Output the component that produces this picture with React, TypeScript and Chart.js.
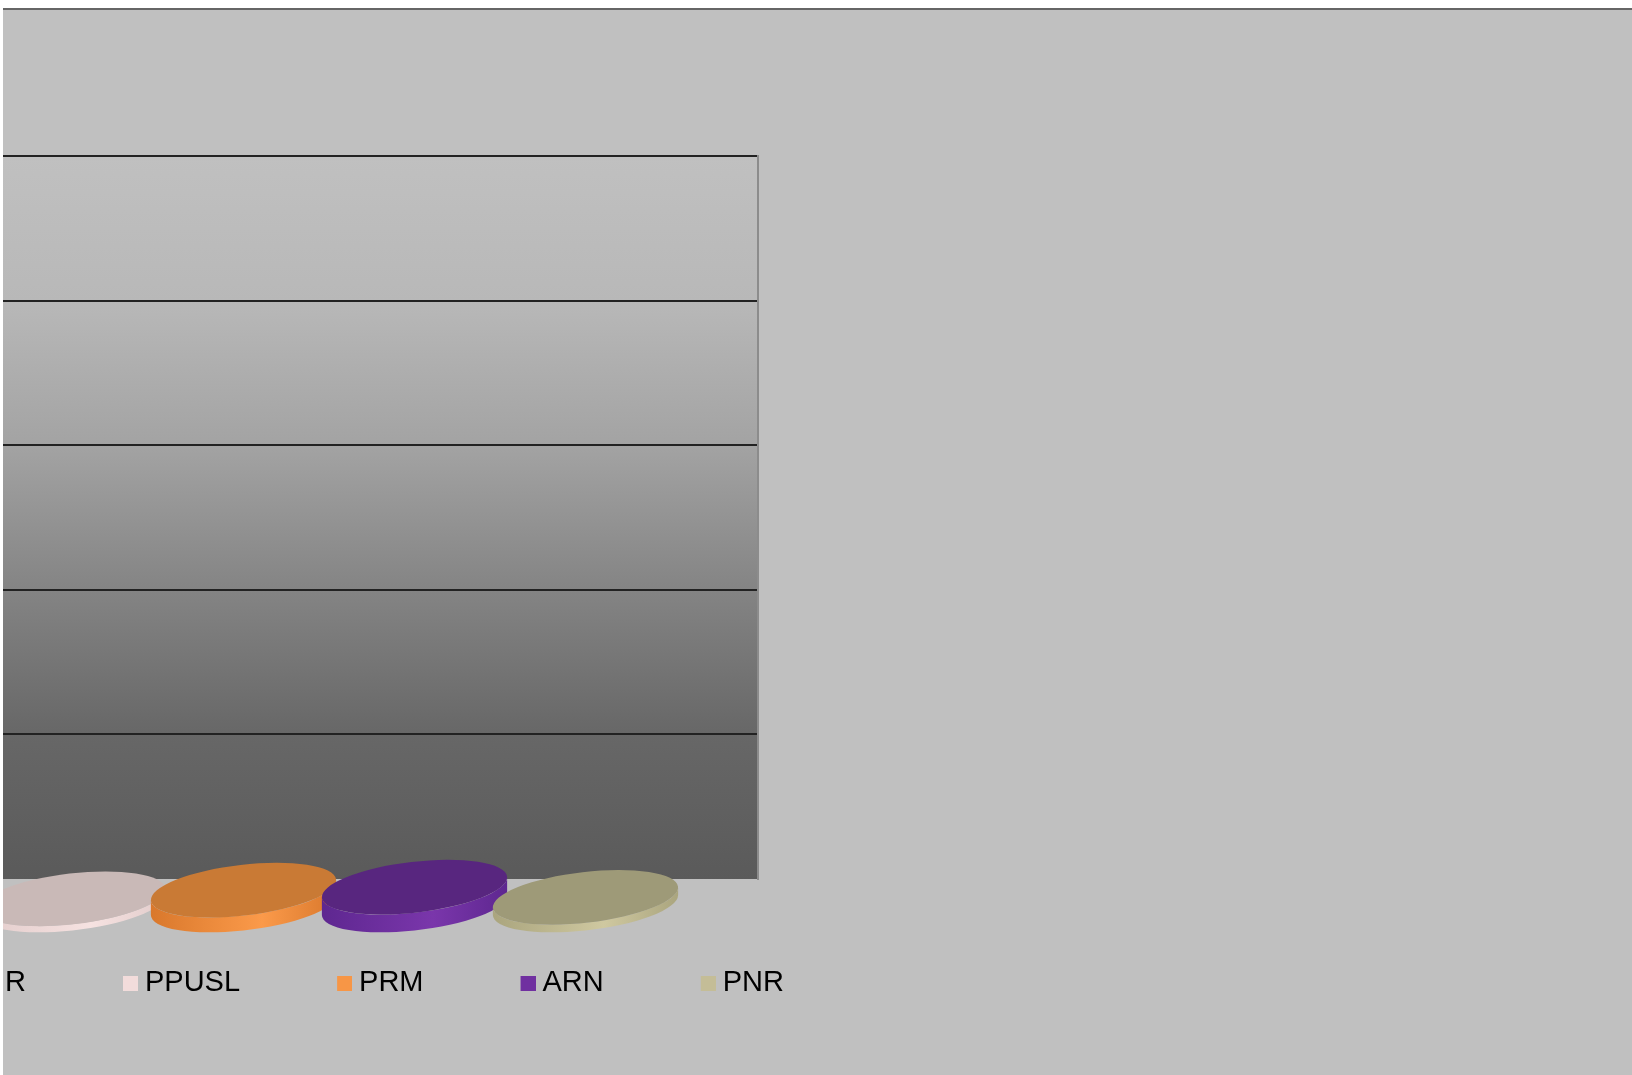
import React, { useEffect, useRef } from 'react';
import { Chart, registerables } from 'chart.js';

Chart.register(...registerables);

// ---- data ----
const categories = [''];
const seriesNames = ['UDMR', 'PPUSL', 'PRM', 'ARN', 'PNR'];
const seriesValues = [0.9, 0.5, 1.1, 1.3, 0.6];
const yMin = 0;
const yMax = 50;
const yStep = 10;

// ---- styles ----
const markerColors = ['#4bacc6', '#f2dcdb', '#f79646', '#7030a0', '#c4bd97'];
const topColors = ['#3f8fa6', '#c9b9b7', '#c97a35', '#58267f', '#9e9a78'];
const sideDark = ['#2f7f96', '#e2cccb', '#d9782c', '#5e2790', '#aaa57e'];
const sideLight = ['#5cc0da', '#f6e2e1', '#fb9a4a', '#7a36ab', '#cfc8a0'];
const FONT = '"Liberation Sans", Arial, sans-serif';

const TILT = -0.115; // rotation of the disc ellipses (radians)
const FLAT = 0.272; // minor / major axis ratio
const DX = -45.5; // 3D depth offset of the columns in front of the back wall
const DY = 27;

const markerCache: Record<string, HTMLCanvasElement> = {};
function makeMarker(color: string): HTMLCanvasElement {
  if (markerCache[color]) return markerCache[color];
  const c = document.createElement('canvas');
  c.width = 30;
  c.height = 15;
  const g = c.getContext('2d')!;
  g.fillStyle = color;
  g.fillRect(15, 0, 15, 15);
  markerCache[color] = c;
  return c;
}

const wallPlugin = {
  id: 'backWall',
  beforeDraw(chart: any) {
    const { ctx, chartArea: a } = chart;
    const g = ctx.createLinearGradient(0, a.top, 0, a.bottom);
    g.addColorStop(0, '#c0c0c0');
    g.addColorStop(0.2, '#b8b8b8');
    g.addColorStop(0.4, '#a3a3a3');
    g.addColorStop(0.6, '#848484');
    g.addColorStop(0.8, '#676767');
    g.addColorStop(1, '#5a5a5a');
    ctx.save();
    ctx.fillStyle = g;
    ctx.fillRect(a.left, a.top, a.right - a.left, a.bottom - a.top);
    ctx.restore();
  },
};

const discPlugin = {
  id: 'discs',
  beforeDatasetsDraw(chart: any) {
    const ctx = chart.ctx;
    chart.data.datasets.forEach((_ds: any, i: number) => {
      const meta = chart.getDatasetMeta(i);
      meta.data.forEach((bar: any) => {
        const p = bar.getProps(['x', 'y', 'base', 'width'], true);
        const cx = p.x + DX;
        const botY = p.base + DY;
        const topY = p.y + DY;
        const a = p.width / 2;
        const b = a * FLAT;
        const t0 = Math.atan2(-b * Math.sin(TILT), a * Math.cos(TILT));
        const tl = t0 + Math.PI;
        const lx = cx + a * Math.cos(tl) * Math.cos(TILT) - b * Math.sin(tl) * Math.sin(TILT);
        const ly = a * Math.cos(tl) * Math.sin(TILT) + b * Math.sin(tl) * Math.cos(TILT);
        ctx.save();
        // side
        const sg = ctx.createLinearGradient(cx - a, 0, cx + a, 0);
        sg.addColorStop(0, sideDark[i]);
        sg.addColorStop(0.6, sideLight[i]);
        sg.addColorStop(1, sideDark[i]);
        ctx.beginPath();
        ctx.ellipse(cx, topY, a, b, TILT, t0, tl, false);
        ctx.lineTo(lx, botY + ly);
        ctx.ellipse(cx, botY, a, b, TILT, tl, t0, true);
        ctx.closePath();
        ctx.fillStyle = sg;
        ctx.fill();
        // top
        ctx.beginPath();
        ctx.ellipse(cx, topY, a, b, TILT, 0, Math.PI * 2);
        ctx.fillStyle = topColors[i];
        ctx.fill();
        ctx.restore();
      });
    });
    return false;
  },
};

export default function App() {
  const ref = useRef<HTMLCanvasElement | null>(null);

  useEffect(() => {
    if (!ref.current) return;
    const chart = new Chart(ref.current, {
      type: 'bar',
      data: {
        labels: categories,
        datasets: seriesNames.map((name, i) => ({
          label: name,
          data: [seriesValues[i]],
          backgroundColor: markerColors[i],
          borderWidth: 0,
          barPercentage: 1.09,
          categoryPercentage: 0.9115,
        })),
      },
      options: {
        responsive: true,
        maintainAspectRatio: false,
        animation: false,
        layout: { padding: { top: 146, left: 0, right: 0, bottom: 67.5 } },
        scales: {
          x: { display: false, offset: true },
          y: {
            position: 'right',
            min: yMin,
            max: yMax,
            ticks: { display: false, stepSize: yStep },
            grid: {
              color: (c: any) => (c.tick && c.tick.value === yMin ? 'rgba(0,0,0,0)' : '#222222'),
              lineWidth: 2,
              drawTicks: false,
            },
            border: { display: true, color: '#8c8c8c', width: 2 },
            afterFit: (s: any) => {
              s.width = 203;
            },
          } as any,
        },
        plugins: {
          legend: {
            position: 'bottom',
            align: 'start',
            labels: {
              color: '#000000',
              font: { family: FONT, size: 29 },
              usePointStyle: true,
              boxWidth: 15,
              boxHeight: 15,
              padding: 89.5,
              generateLabels: (ch: any) => {
                const items = (Chart.defaults.plugins.legend.labels as any).generateLabels(ch);
                return items.map((it: any) => ({
                  ...it,
                  pointStyle: makeMarker(markerColors[it.datasetIndex]),
                }));
              },
            },
          },
          tooltip: { enabled: false },
        },
      },
      plugins: [wallPlugin, discPlugin],
    });
    return () => chart.destroy();
  }, []);

  return (
    <div
      style={{
        position: 'absolute',
        left: 3,
        top: 8,
        width: 1629,
        height: 1067,
        boxSizing: 'border-box',
        borderTop: '2px solid #666666',
        background: '#c0c0c0',
        overflow: 'hidden',
      }}
    >
      <div style={{ position: 'absolute', left: -183, top: 0, width: 1141, height: 1065 }}>
        <canvas ref={ref} />
      </div>
    </div>
  );
}
